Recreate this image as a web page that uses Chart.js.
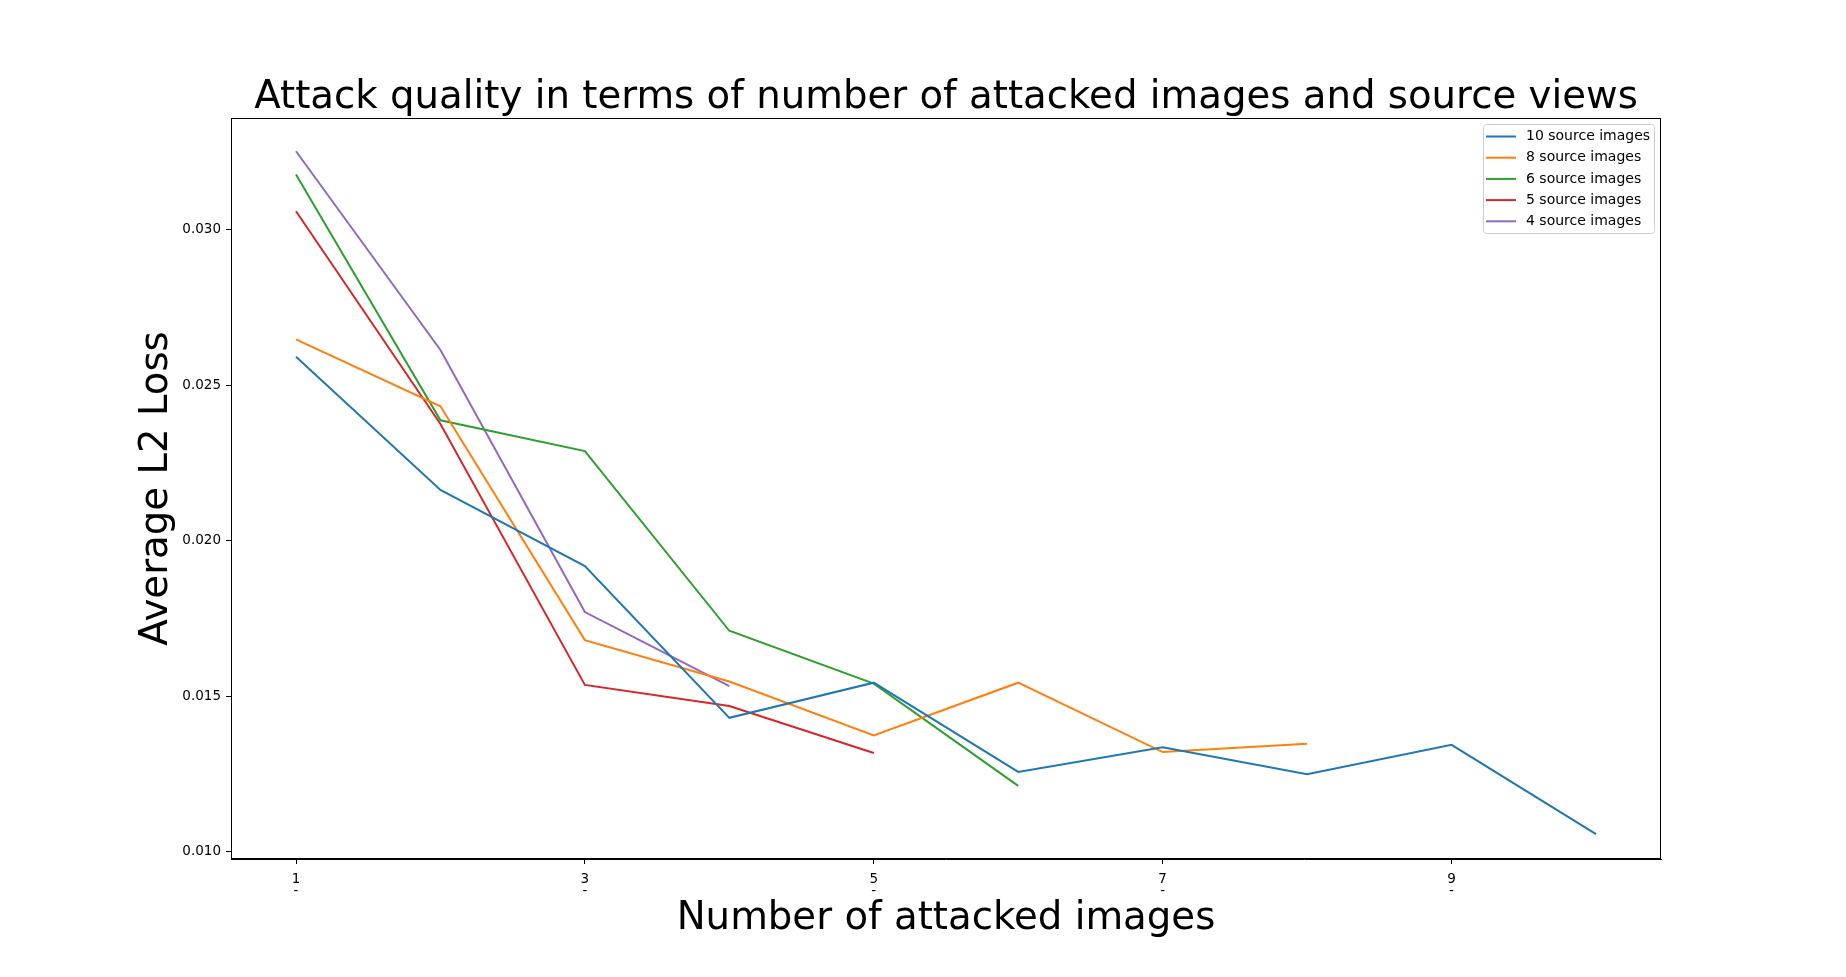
<!DOCTYPE html>
<html>
<head>
  <meta charset="utf-8">
  <script src="https://cdn.jsdelivr.net/npm/chart.js@4/dist/chart.umd.min.js"></script>
  <style>
    body { margin: 0; background: #fff; }
    #wrap { width: 1846px; height: 977px; }
  </style>
</head>
<body>
<div id="wrap"><canvas id="lossChart" width="1846" height="977"></canvas></div>
<script>
  // number of attacked images (x) and tick positions
  const attacked = [1, 2, 3, 4, 5, 6, 7, 8, 9, 10];
  const xTickValues = [1, 3, 5, 7, 9];
  const yTickValues = [0.010, 0.015, 0.020, 0.025, 0.030];

  // average L2 loss per number of source images
  const seriesNames = ['10 source images', '8 source images', '6 source images', '5 source images', '4 source images'];
  const src10 = [0.02592, 0.02164, 0.01919, 0.01431, 0.01544, 0.01257, 0.01336, 0.01250, 0.01344, 0.01057];
  const src8 = [0.02648, 0.02433, 0.01681, 0.01548, 0.01374, 0.01544, 0.01321, 0.01348];
  const src6 = [0.03178, 0.02388, 0.02289, 0.01711, 0.01541, 0.01212];
  const src5 = [0.03060, 0.02376, 0.01537, 0.01469, 0.01318];
  const src4 = [0.03253, 0.02614, 0.01771, 0.01533];

  const colors = ['#1f77b4', '#ff7f0e', '#2ca02c', '#d62728', '#9467bd'];
  const allSeries = [src10, src8, src6, src5, src4];

  const FONT = 'DejaVu Sans';
  const BIG = 38.7;

  function toPoints(values) {
    return values.map((v, i) => ({x: attacked[i], y: v}));
  }

  // frame around the axes + legend box in the upper right corner
  const frameAndLegend = {
    id: 'frameAndLegend',
    afterDatasetsDraw(chart) {
      const ctx = chart.ctx;
      const a = chart.chartArea;
      ctx.save();
      ctx.strokeStyle = '#000';
      ctx.lineWidth = 1;
      ctx.strokeRect(a.left + 0.5, a.top + 0.5, a.right - a.left - 1, a.bottom - a.top - 1);

      const w = 171, h = 109;
      const left = a.right - 7 - w, top = a.top + 6;
      ctx.fillStyle = 'rgba(255,255,255,0.8)';
      ctx.strokeStyle = '#cccccc';
      ctx.beginPath();
      ctx.roundRect(left + 0.5, top + 0.5, w, h, 3);
      ctx.fill();
      ctx.stroke();

      ctx.font = '14px "' + FONT + '"';
      ctx.textBaseline = 'middle';
      ctx.textAlign = 'left';
      chart.data.datasets.forEach((ds, i) => {
        const y = top + 12.5 + i * 21.2;
        ctx.strokeStyle = ds.borderColor;
        ctx.lineWidth = 2;
        ctx.beginPath();
        ctx.moveTo(left + 3, y);
        ctx.lineTo(left + 33, y);
        ctx.stroke();
        ctx.fillStyle = '#000';
        ctx.fillText(ds.label, left + 43, y);
      });
      ctx.restore();
    }
  };

  new Chart(document.getElementById('lossChart'), {
    type: 'line',
    data: {
      datasets: allSeries.map((s, i) => ({
        label: seriesNames[i],
        data: toPoints(s),
        borderColor: colors[i],
        backgroundColor: colors[i],
        borderWidth: 2,
        pointRadius: 0,
        tension: 0,
        fill: false
      }))
    },
    options: {
      responsive: false,
      animation: false,
      layout: { padding: { left: 0, right: 185, top: 0, bottom: 0 } },
      plugins: {
        legend: { display: false },
        tooltip: { enabled: false },
        title: {
          display: true,
          fullSize: false,
          text: 'Attack quality in terms of number of attacked images and source views',
          color: '#000',
          font: { family: FONT, size: BIG, weight: 'normal', lineHeight: 1.0 },
          padding: { top: 78.6, bottom: 0.7 }
        }
      },
      scales: {
        x: {
          type: 'linear',
          min: 0.55,
          max: 10.45,
          afterBuildTicks: s => { s.ticks = xTickValues.map(v => ({value: v})); },
          afterFit: s => { s.height = 118; },
          grid: { drawOnChartArea: false, drawTicks: true, tickLength: 5, tickColor: '#000' },
          border: { display: true, color: '#000' },
          ticks: {
            color: '#000',
            padding: 9,
            maxRotation: 0,
            autoSkip: false,
            font: { family: FONT, size: 13.5, lineHeight: 0.9 },
            callback: v => [String(v), '-']
          },
          title: {
            display: true,
            text: 'Number of attacked images',
            color: '#000',
            font: { family: FONT, size: BIG, lineHeight: 1.2 },
            padding: { top: 0, bottom: 34.5 }
          }
        },
        y: {
          type: 'linear',
          min: 0.00977,
          max: 0.0336,
          afterBuildTicks: s => { s.ticks = yTickValues.map(v => ({value: v})); },
          afterFit: s => { s.width = 231; },
          grid: { drawOnChartArea: false, drawTicks: true, tickLength: 5, tickColor: '#000' },
          border: { display: true, color: '#000' },
          ticks: {
            color: '#000',
            padding: 5,
            font: { family: FONT, size: 13.5 },
            callback: v => Number(v).toFixed(3)
          },
          title: {
            display: true,
            text: 'Average L2 Loss',
            color: '#000',
            font: { family: FONT, size: BIG, lineHeight: 1.2 },
            padding: { top: 134, bottom: 0 }
          }
        }
      }
    },
    plugins: [frameAndLegend]
  });
</script>
</body>
</html>
